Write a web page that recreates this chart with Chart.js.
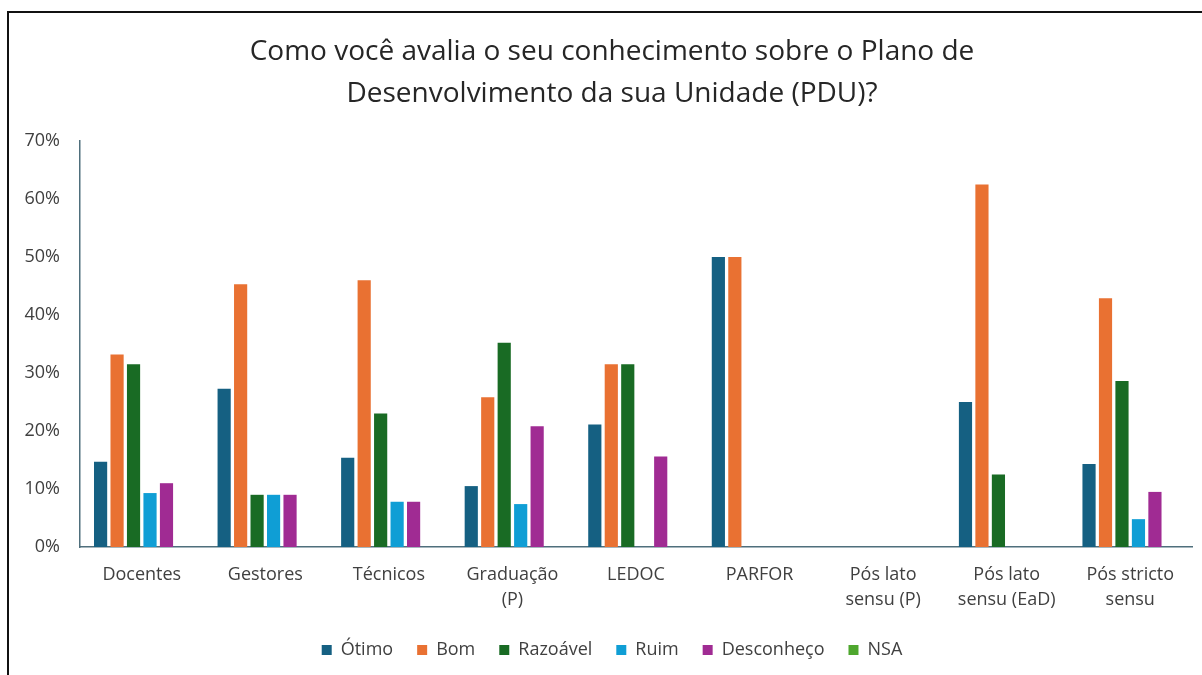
<!DOCTYPE html>
<html>
<head>
<meta charset="utf-8">
<script src="https://cdn.jsdelivr.net/npm/chart.js@4"></script>
<style>
    html, body { margin: 0; padding: 0; background: #fff; overflow: hidden; }
    #wrap { position: relative; width: 1202px; height: 675px; overflow: hidden; }
    #frame {
        position: absolute; left: 7px; top: 11px; right: -5px; bottom: -5px;
        border-left: 2px solid #111; border-top: 2px solid #111;
        pointer-events: none;
    }
</style>
</head>
<body>
<div id="wrap">
    <canvas id="chart" width="1202" height="675"></canvas>
    <div id="frame"></div>
</div>
<script>
// categorias (eixo x)
const categorias = [
    'Docentes', 'Gestores', 'Técnicos', ['Graduação', '(P)'], 'LEDOC', 'PARFOR',
    ['Pós lato', 'sensu (P)'], ['Pós lato', 'sensu (EaD)'], ['Pós stricto', 'sensu']
];

// valores em % por resposta
const otimo       = [14.7, 27.3, 15.4, 10.5, 21.1, 50.0, 0, 25.0, 14.3];
const bom         = [33.2, 45.3, 46.0, 25.8, 31.5, 50.0, 0, 62.5, 42.9];
const razoavel    = [31.5,  9.0, 23.0, 35.2, 31.5,    0, 0, 12.5, 28.6];
const ruim        = [ 9.3,  9.0,  7.8,  7.4,    0,    0, 0,    0,  4.8];
const desconheco  = [11.0,  9.0,  7.8, 20.8, 15.6,    0, 0,    0,  9.5];
const nsa         = [   0,    0,    0,    0,    0,    0, 0,    0,    0];

const yTicks = [0, 10, 20, 30, 40, 50, 60, 70];

const axisColor = '#4f6f7c';
const textColor = '#404040';
const fontFamily = "'Open Sans', 'Liberation Sans', sans-serif";

// no original o título e a legenda ficam um pouco à direita do centro
const shiftBlocks = {
    id: 'shiftBlocks',
    afterLayout(chart) {
        if (chart.titleBlock) chart.titleBlock.left = 32;
        if (chart.legend) chart.legend.left = 32;
    }
};

const ctx = document.getElementById('chart').getContext('2d');
new Chart(ctx, {
    type: 'bar',
    data: {
        labels: categorias,
        datasets: [
            { label: 'Ótimo', data: otimo, backgroundColor: '#156082' },
            { label: 'Bom', data: bom, backgroundColor: '#E97132' },
            { label: 'Razoável', data: razoavel, backgroundColor: '#196B24' },
            { label: 'Ruim', data: ruim, backgroundColor: '#0F9ED5' },
            { label: 'Desconheço', data: desconheco, backgroundColor: '#A02B93' },
            { label: 'NSA', data: nsa, backgroundColor: '#4EA72E' }
        ]
    },
    options: {
        responsive: false,
        animation: false,
        datasets: { bar: { categoryPercentage: 0.8, barPercentage: 0.8 } },
        layout: { padding: { left: 0, right: 10, top: 0, bottom: 6 } },
        plugins: {
            title: {
                display: true,
                text: ['Como você avalia o seu conhecimento sobre o Plano de',
                       'Desenvolvimento da sua Unidade (PDU)?'],
                color: '#262626',
                font: { family: fontFamily, size: 28, weight: 'normal', lineHeight: 1.5 },
                padding: { top: 31, bottom: 26 }
            },
            legend: {
                position: 'bottom',
                labels: {
                    boxWidth: 10,
                    boxHeight: 10,
                    padding: 24,
                    color: textColor,
                    font: { family: fontFamily, size: 18 }
                }
            },
            tooltip: { enabled: false }
        },
        scales: {
            x: {
                grid: { display: false, drawTicks: false },
                border: { display: true, color: axisColor, width: 1.5 },
                ticks: {
                    color: textColor,
                    padding: 15,
                    maxRotation: 0,
                    autoSkip: false,
                    font: { family: fontFamily, size: 18, lineHeight: 1.4 }
                },
                afterFit: (scale) => { scale.height = 70; }
            },
            y: {
                min: 0,
                max: 70,
                grid: { display: false, drawTicks: false },
                border: { display: true, color: axisColor, width: 1.5 },
                afterBuildTicks: (scale) => { scale.ticks = yTicks.map(v => ({ value: v })); },
                ticks: {
                    color: textColor,
                    padding: 20,
                    font: { family: fontFamily, size: 18 },
                    callback: (v) => v + '%'
                },
                afterFit: (scale) => { scale.width = 80; }
            }
        }
    },
    plugins: [shiftBlocks]
});
</script>
</body>
</html>
